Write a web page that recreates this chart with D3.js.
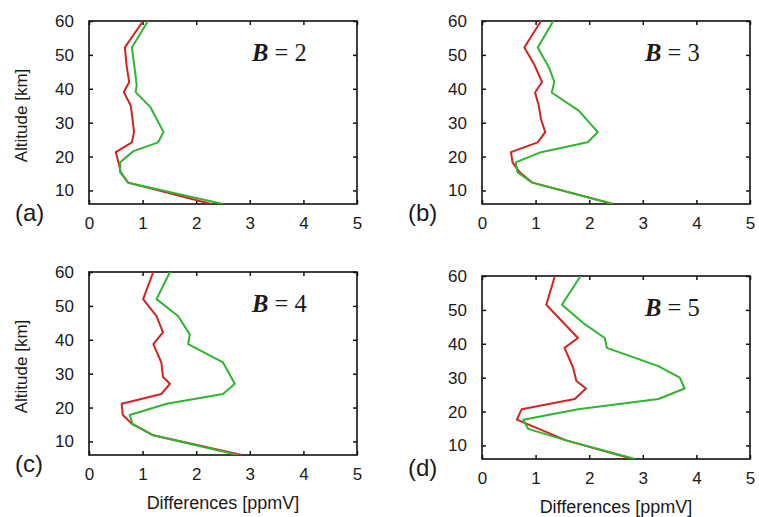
<!DOCTYPE html>
<html>
<head>
<meta charset="utf-8">
<script src="https://cdnjs.cloudflare.com/ajax/libs/d3/7.8.5/d3.min.js"></script>
<style>
body { margin: 0; background: #fff; }
svg text { font-family: "Liberation Sans", Arial, sans-serif; fill: #1a1a1a; }
</style>
</head>
<body>
<div id="graphic"></div>
<script>
//tick labels
var xTicks = [0, 1, 2, 3, 4, 5];
var yTicks = [10, 20, 30, 40, 50, 60];

//series values, [difference ppmV, altitude km]
var redA = [[1.01,60],[0.67,52.2],[0.70,47],[0.75,42],[0.65,39],[0.78,35],[0.82,30],[0.84,27.2],[0.80,24.2],[0.50,21.3],[0.55,18.3],[0.59,15.4],[0.73,12.3],[2.28,6]];
var greenA = [[1.10,60],[0.80,52.2],[0.86,45],[0.89,41],[0.87,39],[1.15,34.5],[1.39,27.2],[1.29,24.2],[0.83,21.6],[0.58,18.3],[0.58,15.4],[0.73,12.3],[2.5,6]];

var redB = [[1.10,60],[0.79,52.2],[0.98,47],[1.12,42],[0.99,38.9],[1.06,35],[1.10,31],[1.18,27.2],[1.04,24.2],[0.54,21.3],[0.57,18.3],[0.70,15.4],[0.94,12.3],[2.45,6]];
var greenB = [[1.33,60],[1.04,52.2],[1.25,46.3],[1.35,42],[1.30,38.9],[1.81,33.5],[2.16,27.2],[1.97,24.2],[1.10,21.3],[0.63,18.3],[0.66,15.4],[0.94,12.3],[2.44,6]];

var redC = [[1.20,60],[1.01,52],[1.26,47],[1.38,42.2],[1.20,38.7],[1.35,33.3],[1.38,29],[1.51,27],[1.35,24],[0.61,21.1],[0.63,17.8],[0.80,15.2],[1.20,11.8],[2.85,6]];
var greenC = [[1.51,60],[1.26,52],[1.66,47],[1.88,41.6],[1.85,38.7],[2.50,33.3],[2.72,27],[2.50,24],[1.45,21.1],[0.76,17.8],[0.81,15.2],[1.20,11.8],[2.78,6]];

var redD = [[1.36,60],[1.20,51.5],[1.79,41.7],[1.54,38.8],[1.70,33],[1.76,29],[1.94,26.8],[1.73,23.7],[0.74,20.7],[0.65,17.6],[1.57,11.5],[2.81,6]];
var greenD = [[1.84,60],[1.49,51.5],[1.89,46.1],[2.29,41.7],[2.33,38.8],[3.29,33.4],[3.69,30],[3.78,26.8],[3.29,23.7],[1.79,20.7],[0.77,17.6],[0.86,14.9],[1.57,11.5],[2.86,6]];

var panelLetters = ["(a)", "(b)", "(c)", "(d)"];
var bValues = [2, 3, 4, 5];

var redColor = "#d02520";
var greenColor = "#2fb52f";

var W = 759, H = 517;
var pw = 268, ph = 183;

var panels = [
    {left: 89,  top: 21,  red: redA, green: greenA, yTitle: true,  xTitle: false},
    {left: 482, top: 21,  red: redB, green: greenB, yTitle: false, xTitle: false},
    {left: 89,  top: 272, red: redC, green: greenC, yTitle: true,  xTitle: true},
    {left: 482, top: 276, red: redD, green: greenD, yTitle: false, xTitle: true}
];

var svg = d3.select("#graphic").append("svg")
    .attr("width", W)
    .attr("height", H);

var x = d3.scaleLinear().domain([0, 5]).range([0, pw]);
var y = d3.scaleLinear().domain([6, 60]).range([ph, 0]);

var line = d3.line()
    .x(function(d) { return x(d[0]); })
    .y(function(d) { return y(d[1]); });

panels.forEach(function(p, i) {
    var g = svg.append("g").attr("transform", "translate(" + p.left + "," + p.top + ")");

    //clip so the lines stop at the frame
    g.append("clipPath").attr("id", "clip" + i)
        .append("rect").attr("width", pw).attr("height", ph);

    //inward ticks on all four sides
    var axB = g.append("g").attr("transform", "translate(0," + ph + ")")
        .call(d3.axisBottom(x).tickValues(xTicks).tickSize(-4).tickPadding(13).tickFormat(d3.format("d")));
    var axT = g.append("g")
        .call(d3.axisTop(x).tickValues(xTicks).tickSize(-4).tickFormat(""));
    var axL = g.append("g")
        .call(d3.axisLeft(y).tickValues(yTicks).tickSize(-4).tickPadding(15).tickFormat(d3.format("d")));
    var axR = g.append("g").attr("transform", "translate(" + pw + ",0)")
        .call(d3.axisRight(y).tickValues(yTicks).tickSize(-4).tickFormat(""));

    [axB, axT, axL, axR].forEach(function(a) {
        a.select(".domain").remove();
        a.selectAll("line").attr("stroke", "#111").attr("stroke-width", 1.5);
        a.selectAll("text").style("font-size", "17px").style("font-family", "Liberation Sans, Arial, sans-serif").attr("fill", "#1a1a1a");
    });

    g.append("rect")
        .attr("width", pw).attr("height", ph)
        .attr("fill", "none").attr("stroke", "#111").attr("stroke-width", 1.6);

    var lines = g.append("g").attr("clip-path", "url(#clip" + i + ")");
    lines.append("path").datum(p.red)
        .attr("d", line).attr("fill", "none")
        .attr("stroke", redColor).attr("stroke-width", 2).attr("stroke-linejoin", "round");
    lines.append("path").datum(p.green)
        .attr("d", line).attr("fill", "none")
        .attr("stroke", greenColor).attr("stroke-width", 2).attr("stroke-linejoin", "round");

    //B = n label
    var bt = g.append("text")
        .attr("x", 163).attr("y", 40)
        .style("font-family", "Liberation Serif, Times New Roman, serif")
        .style("font-size", "24.5px")
        .attr("fill", "#000");
    bt.append("tspan").text("B").style("font-weight", "bold").style("font-style", "italic");
    bt.append("tspan").text(" = " + bValues[i]);

    //panel letter
    g.append("text")
        .attr("x", -74).attr("y", ph + 17)
        .style("font-size", "24px")
        .text(panelLetters[i]);

    if (p.yTitle) {
        g.append("text")
            .attr("transform", "translate(-62," + (ph / 2 + 3) + ") rotate(-90)")
            .attr("text-anchor", "middle")
            .style("font-size", "17px")
            .text("Altitude [km]");
    }
    if (p.xTitle) {
        g.append("text")
            .attr("x", pw / 2).attr("y", ph + 54)
            .attr("text-anchor", "middle")
            .style("font-size", "18px")
            .text("Differences [ppmV]");
    }
});
</script>
</body>
</html>
